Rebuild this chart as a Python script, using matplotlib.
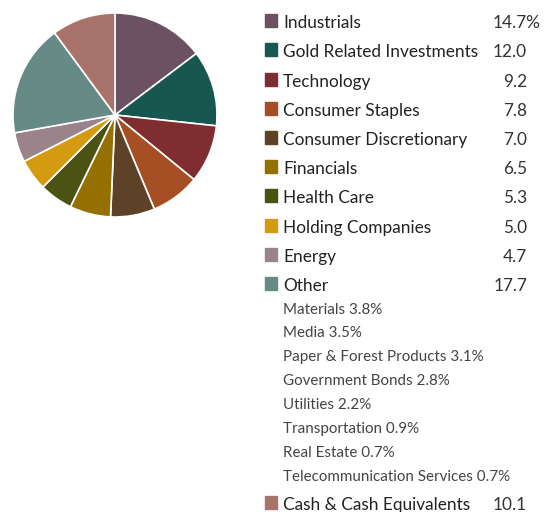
import matplotlib.pyplot as plt
from matplotlib.patches import Rectangle

# sector weights (% of net assets)
sectors = ['Industrials', 'Gold Related Investments', 'Technology', 'Consumer Staples',
           'Consumer Discretionary', 'Financials', 'Health Care', 'Holding Companies',
           'Energy', 'Other', 'Cash & Cash Equivalents']
weights = [14.7, 12.0, 9.2, 7.8, 7.0, 6.5, 5.3, 5.0, 4.7, 17.7, 10.1]
value_labels = ['14.7%', '12.0', '9.2', '7.8', '7.0', '6.5', '5.3', '5.0', '4.7', '17.7', '10.1']
colors = ['#6b5162', '#17574f', '#7f2d31', '#a64f25', '#5e4227', '#957001',
          '#4a5314', '#d49a11', '#9a838a', '#668a86', '#a8736b']

# breakdown of "Other"
other_items = ['Materials 3.8%', 'Media 3.5%', 'Paper & Forest Products 3.1%',
               'Government Bonds 2.8%', 'Utilities 2.2%', 'Transportation 0.9%',
               'Real Estate 0.7%', 'Telecommunication Services 0.7%']

W, H = 545, 512
plt.rcParams['font.family'] = ['Lato', 'DejaVu Sans']
fig = plt.figure(figsize=(W / 100, H / 100), dpi=100)

# pie, centre (115, 115) px, radius 102 px
cx, cy, r = 115, 115, 102
ax = fig.add_axes([(cx - r) / W, 1 - (cy + r) / H, 2 * r / W, 2 * r / H])
ax.pie(weights, colors=colors, startangle=90, counterclock=False,
       wedgeprops=dict(edgecolor='white', linewidth=1.2))
ax.set_xlim(-1, 1)
ax.set_ylim(-1, 1)
ax.set_aspect('equal')
ax.axis('off')


def fx(px):
    return px / W


def fy(py):
    return 1 - py / H


# legend rows (baseline y in px)
main_base = [28, 57, 87, 116, 145, 174, 203, 233, 262, 291]
sub_base = [314, 337, 361, 385, 409, 433, 457, 481]
cash_base = 510

bases = main_base + [cash_base]
for i, (name, val, col) in enumerate(zip(sectors, value_labels, colors)):
    b = bases[i]
    fig.patches.append(Rectangle((fx(265), fy(b - 1.5)), 12 / W, 12.5 / H,
                                 transform=fig.transFigure, color=col))
    fig.text(fx(283), fy(b), name, fontsize=12.4, color='#222222', va='baseline')
    right = 541 if val.endswith('%') else 527
    fig.text(fx(right), fy(b), val, fontsize=12.4, color='#333333', va='baseline', ha='right')

for item, b in zip(other_items, sub_base):
    fig.text(fx(283), fy(b), item, fontsize=10.9, color='#444444', va='baseline')

fig.savefig('out.png', dpi=100)
